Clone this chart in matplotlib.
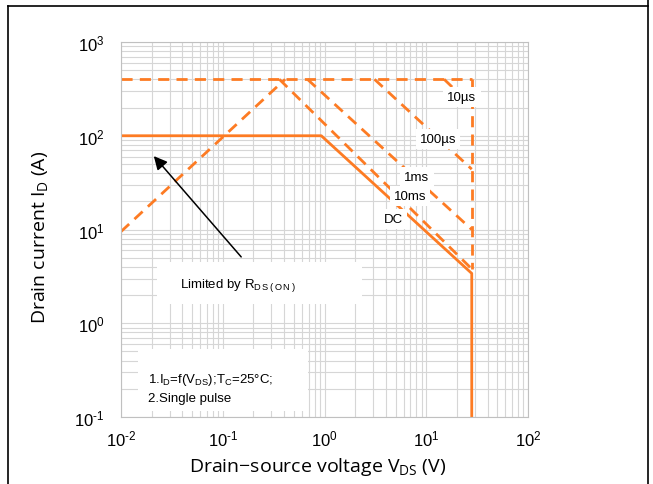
import matplotlib
matplotlib.use("Agg")
import matplotlib.pyplot as plt
from matplotlib.lines import Line2D
from matplotlib.ticker import FixedLocator, FuncFormatter

# SOA curves (V in volts, I in amps)
v_max = 28.0
top_v = [0.01, v_max]
top_i = [400, 400]
rds_v = [0.01, 0.41]
rds_i = [9.5, 400]
dc_v = [0.01, 0.93, v_max, v_max]
dc_i = [100, 100, 3.4, 0.1]
pulse_names = ["10µs", "100µs", "1ms", "10ms"]
pulse_start_v = [15.0, 3.1, 0.68, 0.36]
pulse_end_i = [208, 44, 10, 3.8]
edge_v = [v_max, v_max]
edge_i = [400, 3.8]
x_ticks = [0.01, 0.1, 1, 10, 100]
y_ticks = [0.1, 1, 10, 100, 1000]

orange = "#fd7b23"
plt.rcParams["font.family"] = ["Liberation Sans", "DejaVu Sans"]
plt.rcParams["mathtext.default"] = "regular"


def pow10(v, pos):
    e = int(round(__import__("math").log10(v)))
    s = str(e).replace("-", "\u2010")
    return "10$^{" + s + "}$"


fig = plt.figure(figsize=(6.53, 4.85), dpi=100)
ax = fig.add_axes([121 / 653, 1 - 418 / 485, 407 / 653, 375 / 485])
ax.set_xscale("log")
ax.set_yscale("log")
ax.set_xlim(0.01, 100)
ax.set_ylim(0.1, 1000)
ax.xaxis.set_major_locator(FixedLocator(x_ticks))
ax.yaxis.set_major_locator(FixedLocator(y_ticks))
ax.xaxis.set_major_formatter(FuncFormatter(pow10))
ax.yaxis.set_major_formatter(FuncFormatter(pow10))

ax.grid(True, which="both", color="#d6d6d6", lw=0.8)
ax.set_axisbelow(True)
for s in ax.spines.values():
    s.set_color("#c0c0c0")
ax.tick_params(which="both", length=0, labelsize=12, colors="black")
ax.tick_params(axis="y", pad=12)
ax.tick_params(axis="x", pad=8)

dash = dict(color=orange, lw=2.0, ls=(0, (4, 2.6)))
ax.plot(top_v, top_i, **dash)
ax.plot(rds_v, rds_i, **dash)
for v0, i1 in zip(pulse_start_v, pulse_end_i):
    ax.plot([v0, v_max], [400, i1], **dash)
ax.plot(edge_v, edge_i, **dash)
ax.plot(dc_v, dc_i, color=orange, lw=2.0)

box = dict(facecolor="white", edgecolor="none", pad=3)
lab_pos = [(462, 98), (438, 140), (417, 178), (410, 197)]
for name, (px, py) in zip(pulse_names, lab_pos):
    fig.text(px / 653, 1 - py / 485, name, fontsize=9.5, ha="center",
             va="center", bbox=box)
fig.text(393 / 653, 1 - 220 / 485, "DC", fontsize=9.5, ha="center",
         va="center", bbox=box)

# white patches behind annotation texts
fig.patches.append(plt.Rectangle((157 / 653, 1 - 305 / 485), 205 / 653,
                                 42 / 485, transform=fig.transFigure,
                                 facecolor="white", edgecolor="none"))
fig.patches.append(plt.Rectangle((138 / 653, 1 - 412 / 485), 170 / 653,
                                 62 / 485, transform=fig.transFigure,
                                 facecolor="white", edgecolor="none"))
for p in fig.patches:
    p.set_zorder(1.5)
fig.text(180 / 653, 1 - 286 / 485,
         r"Limited by R$_{\mathregular{D\,S\,(\,O\,N\,)}}$", fontsize=9.5,
         va="center", zorder=3)
fig.text(148 / 653, 1 - 380 / 485,
         r"1.I$_\mathregular{D}$=f(V$_\mathregular{DS}$);T$_\mathregular{C}$=25°C;",
         fontsize=9.5, va="center", zorder=3)
fig.text(148 / 653, 1 - 399 / 485, "2.Single pulse", fontsize=9.5,
         va="center", zorder=3)

ax.annotate("", xy=(152 / 653, 1 - 155 / 485), xycoords="figure fraction",
            xytext=(243 / 653, 1 - 260 / 485), textcoords="figure fraction",
            arrowprops=dict(arrowstyle="-|>", color="black", lw=1.1,
                            mutation_scale=20))

fig.text(318 / 653, 1 - 467 / 485,
         r"Drain$-$source voltage V$_\mathregular{DS}$ (V)",
         fontsize=14, ha="center", va="center", family="Open Sans")
fig.text(40 / 653, 1 - 237 / 485, r"Drain current I$_\mathregular{D}$ (A)",
         fontsize=14, ha="center", va="center", rotation=90,
         family="Open Sans")

# table cell border around the figure
for xs, ys in [([8, 648], [7, 7]), ([8, 8], [7, 485]), ([648, 648], [0, 485])]:
    fig.add_artist(Line2D([x / 653 for x in xs], [1 - y / 485 for y in ys],
                          color="black", lw=1.2))

fig.savefig("out.png", dpi=100)
